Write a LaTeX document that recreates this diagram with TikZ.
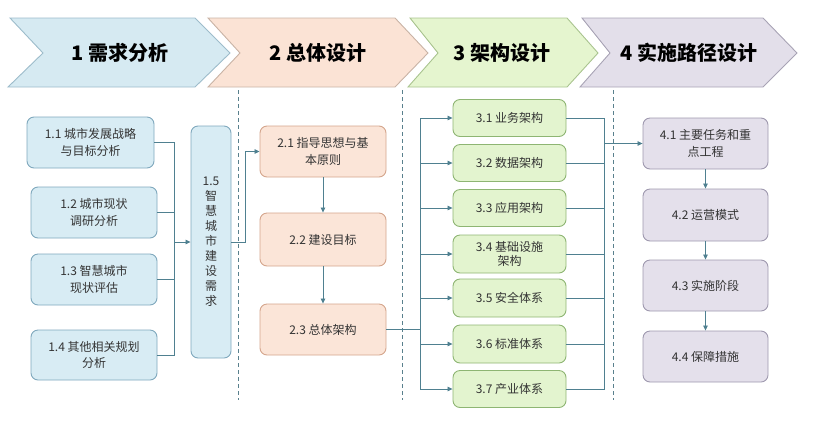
\documentclass[tikz,border=0pt]{standalone}
\usepackage{fontspec}
\setmainfont{Noto Sans CJK SC}
\usetikzlibrary{arrows.meta}
\definecolor{lnc}{HTML}{4F8090}
\definecolor{c1f}{HTML}{D6EAF2}\definecolor{c1d}{HTML}{9DBCCB}
\definecolor{c2f}{HTML}{FBE3D5}\definecolor{c2d}{HTML}{C9B3A5}
\definecolor{c3f}{HTML}{E5F5CF}\definecolor{c3d}{HTML}{A9C48F}
\definecolor{c4f}{HTML}{E3DFEA}\definecolor{c4d}{HTML}{A8A3B5}
\definecolor{b1f}{HTML}{D8ECF4}\definecolor{b1d}{HTML}{7FA8BD}
\definecolor{b2f}{HTML}{FBE5D8}\definecolor{b2d}{HTML}{D4A58C}
\definecolor{b3f}{HTML}{E3F4CF}\definecolor{b3d}{HTML}{8EB573}
\definecolor{b4f}{HTML}{E4E0EB}\definecolor{b4d}{HTML}{9E98AE}
\definecolor{txt}{HTML}{333333}
\tikzset{
  box/.style={rounded corners=7pt, line width=0.9pt, align=center, text=txt,
    font=\fontsize{12}{16.5}\selectfont, inner sep=1pt},
  boxa/.style={box, fill=b1f, draw=b1d},
  boxb/.style={box, fill=b2f, draw=b2d},
  boxc/.style={box, fill=b3f, draw=b3d},
  boxd/.style={box, fill=b4f, draw=b4d},
  ln/.style={draw=lnc, line width=0.8pt},
  arr/.style={ln, -{Triangle[length=5pt,width=4.5pt]}},
  sep/.style={draw=lnc!80!gray, line width=0.6pt, dash pattern=on 4pt off 3pt},
  chev/.style={line width=0.9pt},
  ttl/.style={font=\fontsize{20}{22}\selectfont\bfseries, text=black}
}
\begin{document}
\begin{tikzpicture}[x=1pt,y=-1pt]
\useasboundingbox (0,0) rectangle (813,424);
% chevrons
\draw[chev, fill=c1f, draw=c1d] (10,18) -- (195,18) -- (230,53) -- (195,87) -- (8,87) -- (43,53) -- cycle;
\draw[chev, fill=c2f, draw=c2d] (208,18) -- (395,18) -- (428,53) -- (395,87) -- (208,87) -- (240,53) -- cycle;
\draw[chev, fill=c3f, draw=c3d] (410,18) -- (567,18) -- (598,53) -- (567,87) -- (408,87) -- (438,53) -- cycle;
\draw[chev, fill=c4f, draw=c4d] (582,18) -- (763,18) -- (797,53) -- (763,87) -- (580,87) -- (610,53) -- cycle;
\node[ttl] (t1) at (120,53) {1 需求分析};
\node[ttl] (t2) at (318,53) {2 总体设计};
\node[ttl] (t3) at (502,53) {3 架构设计};
\node[ttl] (t4) at (689,53) {4 实施路径设计};
% separators
\draw[sep] (238,90) -- (238,400);
\draw[sep] (402,90) -- (402,400);
\draw[sep] (613,90) -- (613,400);
% column 1
\node[boxa, minimum width=127, minimum height=51] (b11) at (90.5,142.5) {1.1 城市发展战略\\与目标分析};
\node[boxa, minimum width=126, minimum height=51] (b12) at (94,212.5) {1.2 城市现状\\调研分析};
\node[boxa, minimum width=126, minimum height=51] (b13) at (94,279.5) {1.3 智慧城市\\现状评估};
\node[boxa, minimum width=126, minimum height=50] (b14) at (94,355) {1.4 其他相关规划\\分析};
\node[boxa, minimum width=40, minimum height=232, font=\fontsize{12}{15}\selectfont] (b15) at (211,242) {1.5\\智\\慧\\城\\市\\建\\设\\需\\求};
\coordinate (bus1) at (174,242);
\draw[ln] (b11.east) -| (bus1);
\draw[ln] (b12.east) -| (bus1);
\draw[ln] (b13.east) -| (bus1);
\draw[ln] (b14.east) -| (bus1);
\draw[arr] (bus1) -- (b15.west);
% column 2
\node[boxb, minimum width=126, minimum height=51] (b21) at (323,151.5) {2.1 指导思想与基\\本原则};
\node[boxb, minimum width=126, minimum height=53] (b22) at (323,239.5) {2.2 建设目标};
\node[boxb, minimum width=126, minimum height=51] (b23) at (323,329.5) {2.3 总体架构};
\coordinate (c1) at (245,242);
\draw[arr] (b15.east) -- (c1) |- (b21.west);
\draw[arr] (b21.south) -- (b22.north);
\draw[arr] (b22.south) -- (b23.north);
% column 3
\node[boxc, minimum width=113, minimum height=37] (b31) at (509.5,118) {3.1 业务架构};
\node[boxc, minimum width=113, minimum height=37] (b32) at (509.5,163) {3.2 数据架构};
\node[boxc, minimum width=113, minimum height=37] (b33) at (509.5,208) {3.3 应用架构};
\node[boxc, minimum width=113, minimum height=38, font=\fontsize{12}{14}\selectfont] (b34) at (509.5,254) {3.4 基础设施\\架构};
\node[boxc, minimum width=113, minimum height=38] (b35) at (509.5,298) {3.5 安全体系};
\node[boxc, minimum width=113, minimum height=38] (b36) at (509.5,344) {3.6 标准体系};
\node[boxc, minimum width=113, minimum height=37] (b37) at (509.5,389) {3.7 产业体系};
\coordinate (bus2) at (420,329.5);
\draw[ln] (b23.east) -- (bus2);
\foreach \i in {1,...,7} { \draw[arr] (bus2) |- (b3\i.west); }
% column 4
\node[boxd, minimum width=125, minimum height=51] (b41) at (705.5,143.5) {4.1 主要任务和重\\点工程};
\node[boxd, minimum width=125, minimum height=52] (b42) at (705.5,215) {4.2 运营模式};
\node[boxd, minimum width=125, minimum height=51] (b43) at (705.5,285.5) {4.3 实施阶段};
\node[boxd, minimum width=125, minimum height=51] (b44) at (705.5,356.5) {4.4 保障措施};
\coordinate (bus3) at (604,143.5);
\foreach \i in {1,...,7} { \draw[ln] (b3\i.east) -| (bus3); }
\draw[arr] (bus3) -- (b41.west);
\draw[arr] (b41.south) -- (b42.north);
\draw[arr] (b42.south) -- (b43.north);
\draw[arr] (b43.south) -- (b44.north);
\end{tikzpicture}
\end{document}
